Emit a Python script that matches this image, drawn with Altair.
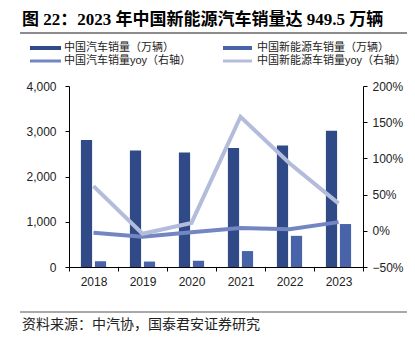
import altair as alt
import pandas as pd

years = ["2018", "2019", "2020", "2021", "2022", "2023"]
auto_sales = [2808, 2577, 2531, 2628, 2686, 3009]
nev_sales = [125.6, 120.6, 136.7, 352.1, 688.7, 949.5]
auto_yoy = [-0.028, -0.082, -0.019, 0.038, 0.021, 0.12]
nev_yoy = [0.617, -0.04, 0.109, 1.575, 0.934, 0.379]

s_auto = "中国汽车销量（万辆）"
s_nev = "中国新能源车销量（万辆）"
s_auto_yoy = "中国汽车销量yoy（右轴）"
s_nev_yoy = "中国新能源车销量yoy（右轴）"

title_text = "图 22：2023 年中国新能源汽车销量达 949.5 万辆"
source_text = "资料来源：中汽协，国泰君安证券研究"

C_AUTO = "#2f4a87"
C_NEV = "#4863a8"
C_AUTO_YOY = "#7486c2"
C_NEV_YOY = "#b4bcdb"

SANS = "Liberation Sans, Noto Sans CJK SC"
SERIF = "Liberation Serif, Noto Sans CJK SC"

bars_df = pd.DataFrame({
    "year": years * 2,
    "series": [s_auto] * len(years) + [s_nev] * len(years),
    "value": auto_sales + nev_sales,
})
lines_df = pd.DataFrame({
    "year": years * 2,
    "series": [s_auto_yoy] * len(years) + [s_nev_yoy] * len(years),
    "value": auto_yoy + nev_yoy,
})

x_enc = alt.X("year:N", sort=years, title=None,
              scale=alt.Scale(paddingInner=0, paddingOuter=0),
              axis=alt.Axis(labelAngle=0, tickBand="extent", tickSize=4,
                            domainColor="#000", tickColor="#000",
                            labelColor="#222", labelFontSize=12, labelFont=SANS,
                            labelPadding=5))

bars = alt.Chart(bars_df).mark_bar().encode(
    x=x_enc,
    xOffset=alt.XOffset("series:N", sort=[s_auto, s_nev],
                        scale=alt.Scale(paddingInner=0.2, paddingOuter=0.85)),
    y=alt.Y("value:Q", title=None,
            scale=alt.Scale(domain=[0, 4000], nice=False),
            axis=alt.Axis(orient="left", values=[0, 1000, 2000, 3000, 4000],
                          format=",.0f", grid=False, tickSize=4,
                          domainColor="#000", tickColor="#000",
                          labelColor="#222", labelFontSize=12, labelFont=SANS,
                          labelPadding=9)),
    color=alt.Color("series:N", scale=alt.Scale(domain=[s_auto, s_nev],
                                                 range=[C_AUTO, C_NEV]),
                    legend=None),
)

lines = alt.Chart(lines_df).mark_line(strokeWidth=4).encode(
    x=alt.X("year:N", sort=years),
    y=alt.Y("value:Q", title=None,
            scale=alt.Scale(domain=[-0.5, 2.0], nice=False),
            axis=alt.Axis(orient="right", values=[-0.5, 0, 0.5, 1.0, 1.5, 2.0],
                          format=".0%", grid=False, tickSize=4,
                          domainColor="#000", tickColor="#000",
                          labelColor="#222", labelFontSize=12, labelFont=SANS,
                          labelPadding=5)),
    color=alt.Color("series:N", scale=alt.Scale(domain=[s_auto_yoy, s_nev_yoy],
                                                 range=[C_AUTO_YOY, C_NEV_YOY]),
                    legend=None),
    order=alt.Order("series:N"),
)

one = pd.DataFrame({"k": [0]})


def text_mark(txt, x, y, size, font, weight="normal", color="#222"):
    return alt.Chart(one).mark_text(
        text=txt, align="left", baseline="middle", fontSize=size, font=font,
        fontWeight=weight, color=color
    ).encode(x=alt.value(x), y=alt.value(y))


def rule_mark(x1, x2, y, color, width):
    return alt.Chart(one).mark_rule(color=color, strokeWidth=width).encode(
        x=alt.value(x1), x2=alt.value(x2), y=alt.value(y))


# offsets relative to plot origin (69, 86)
OX, OY = 69, 86
deco = [
    text_mark(title_text, 22 - OX, 20 - OY, 17, SERIF, "bold", "#000"),
    rule_mark(20 - OX, 407 - OX, 33 - OY, "#8c8c8c", 2),
    rule_mark(20 - OX, 407 - OX, 312 - OY, "#8c8c8c", 1.5),
    text_mark(source_text, 22 - OX, 325 - OY, 14, SERIF, "normal", "#222"),
    # legend
    rule_mark(30 - OX, 61 - OX, 48 - OY, C_AUTO, 4),
    text_mark(s_auto, 64 - OX, 48 - OY, 11, SANS),
    rule_mark(223 - OX, 252 - OX, 48 - OY, C_NEV, 4),
    text_mark(s_nev, 257 - OX, 48 - OY, 11, SANS),
    rule_mark(30 - OX, 61 - OX, 61 - OY, C_AUTO_YOY, 3),
    text_mark(s_auto_yoy, 64 - OX, 61 - OY, 11, SANS),
    rule_mark(223 - OX, 252 - OX, 61 - OY, C_NEV_YOY, 3),
    text_mark(s_nev_yoy, 257 - OX, 61 - OY, 11, SANS),
]

chart = alt.layer(bars, lines, *deco).resolve_scale(
    y="independent", color="independent"
).properties(
    width=294, height=181,
    autosize=alt.AutoSizeParams(type="none"),
    padding={"left": OX, "top": OY, "right": 415 - OX - 294, "bottom": 337 - OY - 181},
    background="white",
).configure_view(stroke=None)

chart.save("out.html", embed_options={"renderer": "svg", "actions": False})
